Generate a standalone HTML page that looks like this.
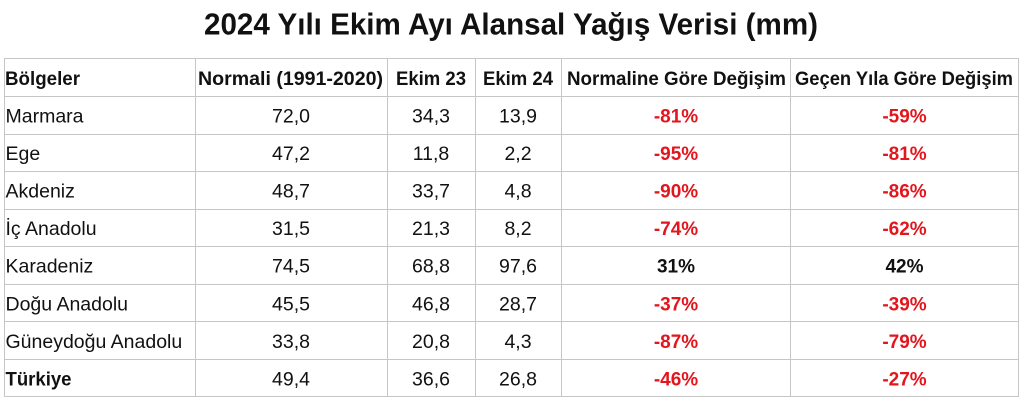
<!DOCTYPE html>
<html>
<head>
<meta charset="utf-8">
<style>
  html, body { margin:0; padding:0; background:#fff; }
  body { width:1024px; height:401px; overflow:hidden; }
  svg { display:block; }
  text { font-family: "Liberation Sans", "DejaVu Sans", sans-serif; fill:#111; }
  .t { font-weight:bold; font-size:31px; }
  .h { font-weight:bold; font-size:19px; }
  .d { font-size:19.5px; }
  .p { font-weight:bold; font-size:19px; }
  .r { fill:#e3151d; }
  .b { fill:#111; }
</style>
</head>
<body>
<svg width="1024" height="401" viewBox="0 0 1024 401" xmlns="http://www.w3.org/2000/svg">
  <rect x="0" y="0" width="1024" height="401" fill="#fff"/>
  <text class="t" x="204" y="34.3" textLength="614" lengthAdjust="spacingAndGlyphs">2024 Yılı Ekim Ayı Alansal Yağış Verisi (mm)</text>

  <!-- grid -->
  <g stroke="#c6c6c6" stroke-width="1" fill="none">
    <line x1="4" y1="58.5" x2="1019" y2="58.5"/>
    <line x1="4" y1="96.5" x2="1019" y2="96.5"/>
    <line x1="4" y1="134.5" x2="1019" y2="134.5"/>
    <line x1="4" y1="171.5" x2="1019" y2="171.5"/>
    <line x1="4" y1="209.5" x2="1019" y2="209.5"/>
    <line x1="4" y1="246.5" x2="1019" y2="246.5"/>
    <line x1="4" y1="284.5" x2="1019" y2="284.5"/>
    <line x1="4" y1="321.5" x2="1019" y2="321.5"/>
    <line x1="4" y1="359.5" x2="1019" y2="359.5"/>
    <line x1="4" y1="396.5" x2="1019" y2="396.5"/>
    <line x1="4.5" y1="58" x2="4.5" y2="397"/>
    <line x1="195.5" y1="58" x2="195.5" y2="397"/>
    <line x1="387.5" y1="58" x2="387.5" y2="397"/>
    <line x1="475.5" y1="58" x2="475.5" y2="397"/>
    <line x1="561.5" y1="58" x2="561.5" y2="397"/>
    <line x1="790.5" y1="58" x2="790.5" y2="397"/>
    <line x1="1018.5" y1="58" x2="1018.5" y2="397"/>
  </g>

  <!-- header -->
  <text class="h" x="5" y="85" textLength="75" lengthAdjust="spacingAndGlyphs">Bölgeler</text>
  <text class="h" x="198" y="85" textLength="185" lengthAdjust="spacingAndGlyphs">Normali (1991-2020)</text>
  <text class="h" x="396" y="85" textLength="70" lengthAdjust="spacingAndGlyphs">Ekim 23</text>
  <text class="h" x="483" y="85" textLength="70" lengthAdjust="spacingAndGlyphs">Ekim 24</text>
  <text class="h" x="567" y="85" textLength="219" lengthAdjust="spacingAndGlyphs">Normaline Göre Değişim</text>
  <text class="h" x="795" y="85" textLength="218" lengthAdjust="spacingAndGlyphs">Geçen Yıla Göre Değişim</text>

  <!-- left labels -->
  <g class="d">
    <text class="d" x="5.5" y="122.3">Marmara</text>
    <text class="d" x="5.5" y="159.9">Ege</text>
    <text class="d" x="5.5" y="197.5">Akdeniz</text>
    <text class="d" x="5.5" y="235.1">İç Anadolu</text>
    <text class="d" x="5.5" y="272.7">Karadeniz</text>
    <text class="d" x="5.5" y="310.3">Doğu Anadolu</text>
    <text class="d" x="5.5" y="347.9">Güneydoğu Anadolu</text>
  </g>
  <text class="h" x="5.5" y="385.5" textLength="66" lengthAdjust="spacingAndGlyphs">Türkiye</text>

  <!-- Normali -->
  <g text-anchor="middle">
    <text class="d" x="291" y="122.3">72,0</text>
    <text class="d" x="291" y="159.9">47,2</text>
    <text class="d" x="291" y="197.5">48,7</text>
    <text class="d" x="291" y="235.1">31,5</text>
    <text class="d" x="291" y="272.7">74,5</text>
    <text class="d" x="291" y="310.3">45,5</text>
    <text class="d" x="291" y="347.9">33,8</text>
    <text class="d" x="291" y="385.5">49,4</text>

    <text class="d" x="431" y="122.3">34,3</text>
    <text class="d" x="431" y="159.9">11,8</text>
    <text class="d" x="431" y="197.5">33,7</text>
    <text class="d" x="431" y="235.1">21,3</text>
    <text class="d" x="431" y="272.7">68,8</text>
    <text class="d" x="431" y="310.3">46,8</text>
    <text class="d" x="431" y="347.9">20,8</text>
    <text class="d" x="431" y="385.5">36,6</text>

    <text class="d" x="518" y="122.3">13,9</text>
    <text class="d" x="518" y="159.9">2,2</text>
    <text class="d" x="518" y="197.5">4,8</text>
    <text class="d" x="518" y="235.1">8,2</text>
    <text class="d" x="518" y="272.7">97,6</text>
    <text class="d" x="518" y="310.3">28,7</text>
    <text class="d" x="518" y="347.9">4,3</text>
    <text class="d" x="518" y="385.5">26,8</text>

    <text class="p r" x="676" y="122.3">-81%</text>
    <text class="p r" x="676" y="159.9">-95%</text>
    <text class="p r" x="676" y="197.5">-90%</text>
    <text class="p r" x="676" y="235.1">-74%</text>
    <text class="p b" x="676" y="272.7">31%</text>
    <text class="p r" x="676" y="310.3">-37%</text>
    <text class="p r" x="676" y="347.9">-87%</text>
    <text class="p r" x="676" y="385.5">-46%</text>

    <text class="p r" x="904.5" y="122.3">-59%</text>
    <text class="p r" x="904.5" y="159.9">-81%</text>
    <text class="p r" x="904.5" y="197.5">-86%</text>
    <text class="p r" x="904.5" y="235.1">-62%</text>
    <text class="p b" x="904.5" y="272.7">42%</text>
    <text class="p r" x="904.5" y="310.3">-39%</text>
    <text class="p r" x="904.5" y="347.9">-79%</text>
    <text class="p r" x="904.5" y="385.5">-27%</text>
  </g>
</svg>
</body>
</html>
